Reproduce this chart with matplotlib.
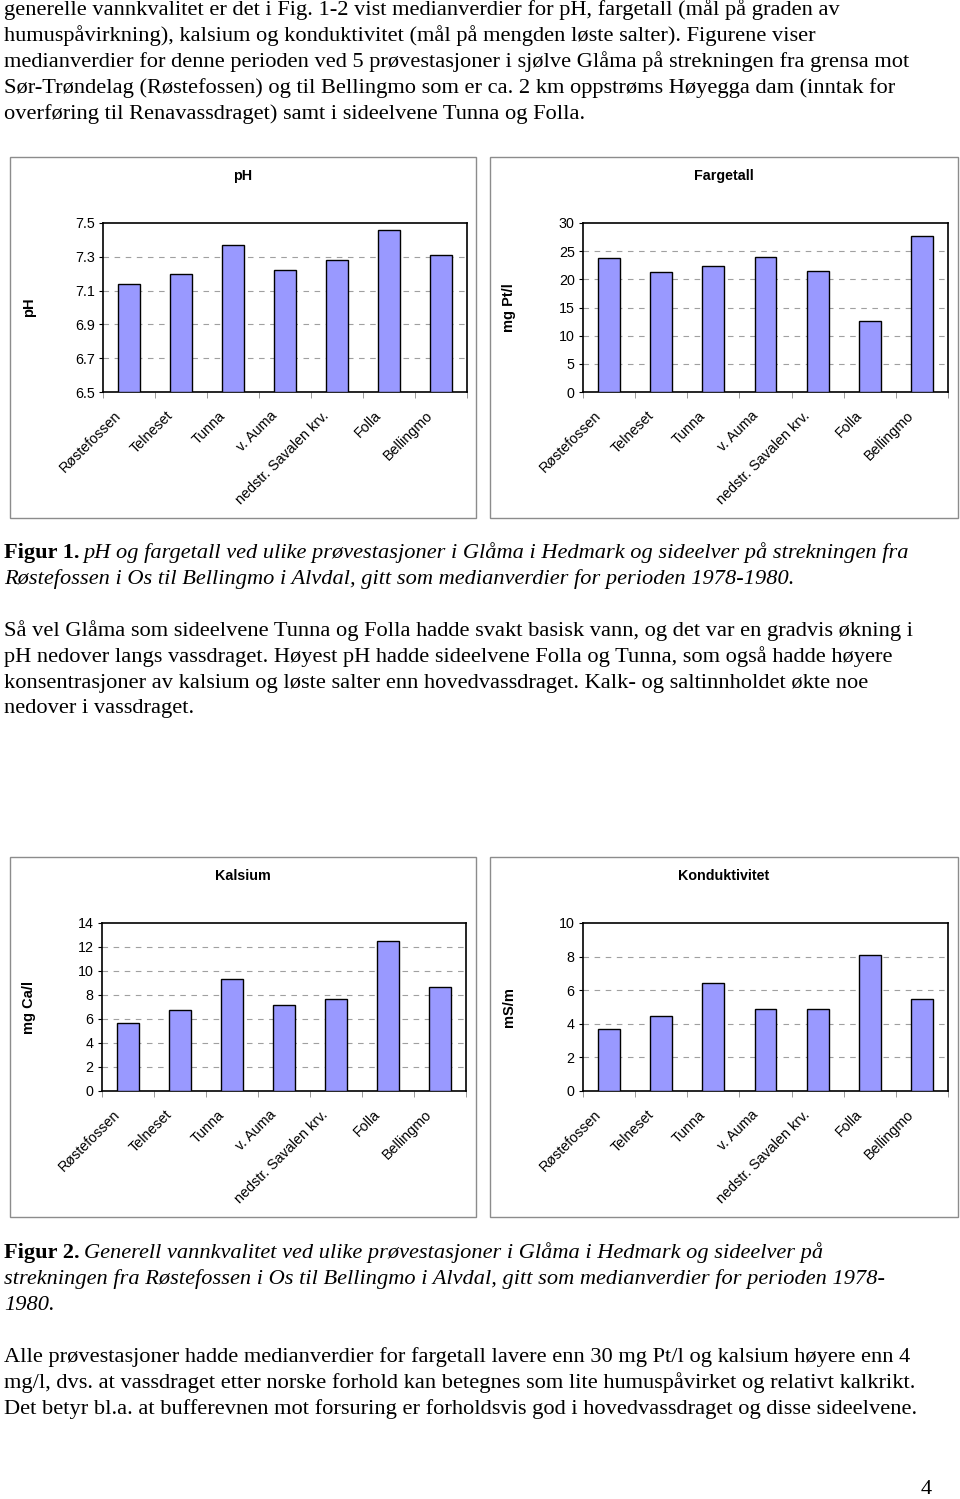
import matplotlib
matplotlib.use("Agg")
import matplotlib.pyplot as plt
from matplotlib.patches import Rectangle
from matplotlib.transforms import ScaledTranslation
import numpy as np

# stations (same order in all four charts)
stations = ["Røstefossen", "Telneset", "Tunna", "v. Auma",
            "nedstr. Savalen krv.", "Folla", "Bellingmo"]

# median values 1978-1980
ph_values = [7.14, 7.20, 7.37, 7.22, 7.28, 7.46, 7.31]
fargetall_values = [23.8, 21.3, 22.4, 23.9, 21.5, 12.6, 27.7]
kalsium_values = [5.7, 6.75, 9.3, 7.2, 7.7, 12.5, 8.65]
kond_values = [3.7, 4.45, 6.4, 4.9, 4.9, 8.1, 5.5]

# page text
intro_lines = [
    "generelle vannkvalitet er det i Fig. 1-2 vist medianverdier for pH, fargetall (mål på graden av",
    "humuspåvirkning), kalsium og konduktivitet (mål på mengden løste salter). Figurene viser",
    "medianverdier for denne perioden ved 5 prøvestasjoner i sjølve Glåma på strekningen fra grensa mot",
    "Sør-Trøndelag (Røstefossen) og til Bellingmo som er ca. 2 km oppstrøms Høyegga dam (inntak for",
    "overføring til Renavassdraget) samt i sideelvene Tunna og Folla.",
]
cap1_lines = [
    "pH og fargetall ved ulike prøvestasjoner i Glåma i Hedmark og sideelver på strekningen fra",
    "Røstefossen i Os til Bellingmo i Alvdal, gitt som medianverdier for perioden 1978-1980.",
]
para2_lines = [
    "Så vel Glåma som sideelvene Tunna og Folla hadde svakt basisk vann, og det var en gradvis økning i",
    "pH nedover langs vassdraget. Høyest pH hadde sideelvene Folla og Tunna, som også hadde høyere",
    "konsentrasjoner av kalsium og løste salter enn hovedvassdraget. Kalk- og saltinnholdet økte noe",
    "nedover i vassdraget.",
]
cap2_lines = [
    "Generell vannkvalitet ved ulike prøvestasjoner i Glåma i Hedmark og sideelver på",
    "strekningen fra Røstefossen i Os til Bellingmo i Alvdal, gitt som medianverdier for perioden 1978-",
    "1980.",
]
para3_lines = [
    "Alle prøvestasjoner hadde medianverdier for fargetall lavere enn 30 mg Pt/l og kalsium høyere enn 4",
    "mg/l, dvs. at vassdraget etter norske forhold kan betegnes som lite humuspåvirket og relativt kalkrikt.",
    "Det betyr bl.a. at bufferevnen mot forsuring er forholdsvis god i hovedvassdraget og disse sideelvene.",
]

W, H = 960, 1499
fig = plt.figure(figsize=(W / 100, H / 100), dpi=100)
fig.patch.set_facecolor("white")

serif = "Liberation Serif"
sans = "Liberation Sans"
body_size = 16.1


def fx(px):
    return px / W


def fy(py):
    return 1 - py / H


def put_lines(lines, y0, x0=4, style="normal"):
    for i, line in enumerate(lines):
        fig.text(fx(x0), fy(y0 + 26 * i), line, family=serif, size=body_size,
                 style=style, ha="left", va="center")


put_lines(intro_lines, 10)
put_lines(para2_lines, 631)
put_lines(para3_lines, 1357)

# captions: bold label followed by italic text
fig.canvas.draw()
renderer = fig.canvas.get_renderer()
for label, lines, y0 in [("Figur 1.", cap1_lines, 553), ("Figur 2.", cap2_lines, 1253)]:
    t = fig.text(fx(4), fy(y0), label, family=serif, size=body_size,
                 weight="bold", ha="left", va="center")
    bb = t.get_window_extent(renderer)
    fig.text(fx(bb.x1 + 4), fy(y0), lines[0], family=serif, size=body_size,
             style="italic", ha="left", va="center")
    put_lines(lines[1:], y0 + 26, style="italic")

fig.text(fx(926), fy(1489), "4", family=serif, size=body_size, ha="center", va="center")

# charts: (values, title, ylabel, ymin, ymax, step, box, axes rect in px, fmt)
charts = [
    (ph_values, "pH", "pH", 6.5, 7.5, 0.2, (10, 157, 476, 518), (103, 223, 467, 392), "{:.1f}"),
    (fargetall_values, "Fargetall", "mg Pt/l", 0, 30, 5, (490, 157, 958, 518), (583, 223, 948, 392), "{:.0f}"),
    (kalsium_values, "Kalsium", "mg Ca/l", 0, 14, 2, (10, 857, 476, 1217), (102, 923, 466, 1091), "{:.0f}"),
    (kond_values, "Konduktivitet", "mS/m", 0, 10, 2, (490, 857, 958, 1217), (583, 923, 948, 1091), "{:.0f}"),
]

x = np.arange(len(stations))
shift = ScaledTranslation(-15 / 100, 0, fig.dpi_scale_trans)
for vals, title, ylab, ymin, ymax, step, box, rect, fmt in charts:
    bx0, by0, bx1, by1 = box
    fig.patches.append(Rectangle((fx(bx0), fy(by1)), (bx1 - bx0) / W, (by1 - by0) / H,
                                 transform=fig.transFigure, fill=False,
                                 edgecolor="#8c8c8c", linewidth=1.0))
    fig.text(fx((bx0 + bx1) / 2), fy(by0 + 19), title, family=sans, size=10.3,
             weight="bold", ha="center", va="center")

    l, t, r, b = rect
    ax = fig.add_axes([fx(l), fy(b), (r - l) / W, (b - t) / H])
    ax.bar(x, np.array(vals) - ymin, bottom=ymin, width=0.42, color="#9999ff",
           edgecolor="black", linewidth=1.0, zorder=3)
    ax.set_xlim(-0.5, len(stations) - 0.5)
    ax.set_ylim(ymin, ymax)

    yt = np.arange(ymin, ymax + step / 2, step)
    ax.set_yticks(yt)
    ax.set_yticklabels([fmt.format(v) for v in yt], family=sans, fontsize=10.3)
    ax.tick_params(axis="y", length=3, width=0.8, pad=3)
    for v in yt[1:-1]:
        ax.axhline(v, color="#a0a0a0", linestyle=(0, (5, 5)), linewidth=0.8, zorder=1)

    ax.set_xticks(x)
    ax.set_xticklabels(stations, family=sans, fontsize=10.3, rotation=45,
                       ha="right", rotation_mode="anchor")
    ax.tick_params(axis="x", which="major", length=0, pad=12)
    for lab in ax.get_xticklabels():
        lab.set_transform(lab.get_transform() + shift)
    ax.set_xticks(np.arange(-0.5, len(stations)), minor=True)
    ax.tick_params(axis="x", which="minor", length=4, width=0.6, color="#888888")

    for s in ax.spines.values():
        s.set_linewidth(1.2)
        s.set_color("black")

    ax.set_ylabel(ylab, family=sans, fontsize=10.5, weight="bold")
    ax.yaxis.set_label_coords((bx0 + 26 - l) / (r - l), 0.5)

fig.savefig("out.png", dpi=100)
